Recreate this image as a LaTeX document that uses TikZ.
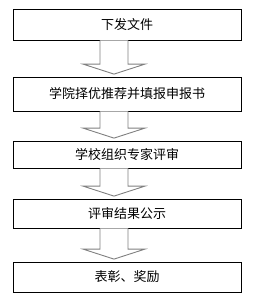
\documentclass[tikz,border=0pt]{standalone}
\usepackage{fontspec}
\newfontfamily\cjk{Noto Sans CJK SC}
\usepackage{tikz}
\usetikzlibrary{calc}
\definecolor{FGray}{HTML}{808080}

\begin{document}
\begin{tikzpicture}[
  x=1pt,y=-1pt,
  box/.style={draw=black,line width=0.8pt,fill=white,minimum width=228pt,
    inner sep=0pt,font=\cjk\fontsize{13}{13}\selectfont},
  hollow/.style={draw=FGray,line width=0.9pt,fill=white,line join=miter}
]
  \useasboundingbox (0,0) rectangle (252,300);
  \node[box,minimum height=31pt] (issue) at (127,24.5) {下发文件};
  \node[box,minimum height=34pt] (college) at (127,94) {学院择优推荐并填报申报书};
  \node[box,minimum height=27pt] (review) at (127,154.5) {学校组织专家评审};
  \node[box,minimum height=29pt] (publish) at (127,213.5) {评审结果公示};
  \node[box,minimum height=30pt] (award) at (127,277) {表彰、奖励};
  % hollow block arrows between the steps
  \foreach \a/\b in {issue/college,college/review,review/publish,publish/award}{
    \coordinate (tip) at ([xshift=-13pt,yshift=2.5pt]\b.north);
    \coordinate (base) at ([yshift=10pt]tip);
    \draw[hollow] ([xshift=-27pt]\a.south) -- ([xshift=-14pt]base)
      -- ([xshift=-31pt]base) -- (tip) -- ([xshift=31pt]base)
      -- ([xshift=14pt]base) -- ([xshift=1pt]\a.south);
  }
\end{tikzpicture}
\end{document}
